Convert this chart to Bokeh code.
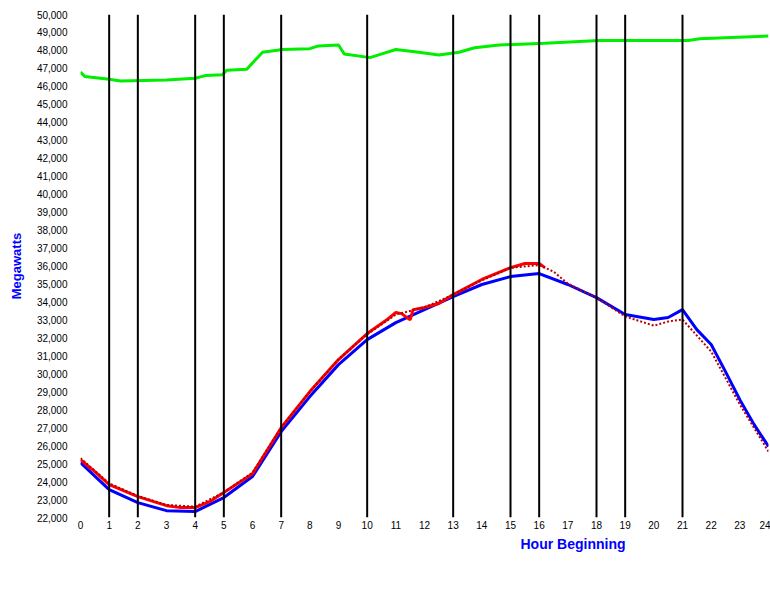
from bokeh.plotting import figure
from bokeh.models import (FixedTicker, NumeralTickFormatter, Legend, LegendItem,
                          Title, Span, Range1d)
from bokeh.embed import file_html
from bokeh.resources import INLINE

# ---- data ----
x_ticks = list(range(0, 25))
x_tick_labels = [str(h) for h in range(0, 25)]
y_ticks = list(range(22000, 50001, 1000))
event_hours = [1, 2, 4, 5, 7, 10, 13, 15, 16, 18, 19, 21]

blue_hours = [0, 1, 2, 3, 4, 5, 6, 7, 8, 9, 10, 11, 12, 13, 14, 15, 16, 17, 18,
              19, 20, 20.5, 21, 21.5, 22, 22.5, 23, 23.5, 24]
blue_mw = [25050, 23550, 22830, 22380, 22330, 23110, 24280, 26780, 28730, 30510,
           31900, 32850, 33570, 34300, 34970, 35410, 35580, 34970, 34240,
           33300, 33020, 33130, 33570, 32460, 31630, 30120, 28560, 27170, 25950]

red_hours = [0, 0.5, 1, 2, 3, 3.5, 4, 4.5, 5, 6, 7, 8, 9, 10, 10.7, 11, 11.2,
             11.5, 11.6, 12, 12.5, 13, 14, 15, 15.5, 16, 16.2]
red_mw = [25220, 24550, 23830, 23160, 22660, 22550, 22550, 22880, 23390, 24440,
          27000, 29010, 30790, 32240, 33020, 33410, 33350, 33000, 33570, 33690,
          33910, 34410, 35250, 35910, 36140, 36140, 35910]

dot_hours = [0, 1, 2, 3, 4, 5, 6, 7, 8, 9, 10, 11, 12, 13, 14, 15, 16, 16.5, 17,
             18, 19, 20, 20.5, 21, 22, 23, 24]
dot_mw = [25300, 23900, 23200, 22700, 22600, 23400, 24500, 27000, 29000, 30800,
          32200, 33300, 33700, 34400, 35200, 35900, 36050, 35690, 35020, 34240,
          33190, 32680, 32910, 33020, 31240, 28290, 25670]

green_hours = [0, 0.15, 1, 1.4, 3, 4, 4.35, 4.95, 5.1, 5.8, 6, 6.35, 7.05, 8,
               8.3, 9, 9.2, 10.1, 10.4, 11, 11.8, 12.5, 13.2, 13.75, 14.6, 16.2,
               18.1, 21.2, 21.6, 24]
green_mw = [46800, 46550, 46400, 46300, 46350, 46450, 46600, 46650, 46900, 46950,
            47300, 47900, 48050, 48100, 48250, 48300, 47800, 47600, 47750, 48050,
            47900, 47750, 47900, 48150, 48300, 48400, 48550, 48550, 48650, 48800]

FONT = "Liberation Sans"

p = figure(frame_width=688, frame_height=503, output_backend="svg",
           toolbar_location=None,
           x_range=Range1d(0, 24), y_range=Range1d(22000, 50000),
           min_border_left=80, min_border_right=2, min_border_top=14,
           min_border_bottom=0)
p.outline_line_color = None
p.grid.grid_line_color = None
p.background_fill_color = "white"

for h in event_hours:
    p.add_layout(Span(location=h, dimension="height", line_color="black",
                      line_width=2))

g = p.line(green_hours, green_mw, line_color="#00ee00", line_width=3)
b = p.line(blue_hours, blue_mw, line_color="#0000ff", line_width=3)
r = p.line(red_hours, red_mw, line_color="#ff0000", line_width=3)
d = p.line(dot_hours, dot_mw, line_color="#b80000", line_width=2,
           line_dash="2 2")

p.xaxis.ticker = FixedTicker(ticks=x_ticks)
p.xaxis.major_label_overrides = {t: l for t, l in zip(x_ticks, x_tick_labels)}
p.yaxis.ticker = FixedTicker(ticks=y_ticks)
p.yaxis.formatter = NumeralTickFormatter(format="0,0")
for ax in (p.xaxis, p.yaxis):
    ax.axis_line_color = None
    ax.major_tick_line_color = None
    ax.minor_tick_line_color = None
    ax.major_tick_out = 0
    ax.major_tick_in = 0
    ax.minor_tick_out = 0
    ax.major_label_text_font = FONT
    ax.major_label_text_font_size = "10px"
    ax.major_label_text_color = "black"
p.xaxis.major_label_standoff = 3
p.yaxis.major_label_standoff = 13
p.yaxis.axis_label = "Megawatts"
p.yaxis.axis_label_text_color = "#0000ff"
p.yaxis.axis_label_text_font = FONT
p.yaxis.axis_label_text_font_size = "13px"
p.yaxis.axis_label_text_font_style = "bold"
p.yaxis.axis_label_standoff = 10

p.add_layout(Title(text="Hour Beginning", align="left", offset=440,
                   text_color="#0000ff", text_font=FONT, text_font_size="14px",
                   text_font_style="bold", standoff=4), "below")

legend = Legend(items=[
    LegendItem(label="Forecast Demand", renderers=[b]),
    LegendItem(label="Day-Ahead Forecast Demand", renderers=[d]),
    LegendItem(label="Actual Demand", renderers=[r]),
    LegendItem(label="Available Capacity", renderers=[g]),
], orientation="horizontal", location="top_left", border_line_color=None,
    background_fill_alpha=0, label_text_font=FONT, label_text_font_size="11px",
    glyph_width=17, glyph_height=8, label_standoff=7, label_width=125,
    label_height=11, spacing=10, padding=0, margin=0)
p.add_layout(legend, "below")

open("out.html", "w").write(file_html(p, INLINE))
